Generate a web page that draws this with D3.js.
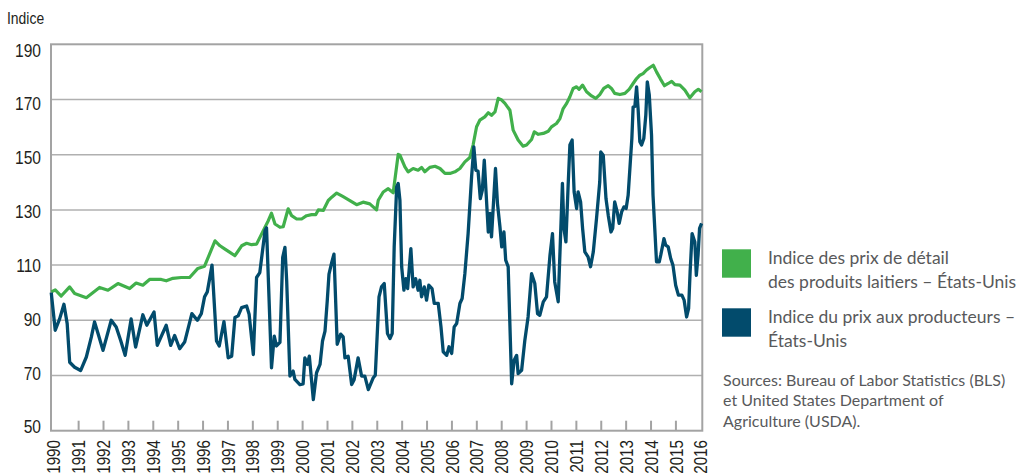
<!DOCTYPE html>
<html>
<head>
<meta charset="utf-8">
<script src="https://cdnjs.cloudflare.com/ajax/libs/d3/7.8.5/d3.min.js"></script>
<style>
  body { margin: 0; background: #fff; }
</style>
</head>
<body>
<div id="chart"></div>
<script>
// data (decimal year, index value)
var retailDates = [1989.90, 1990.06, 1990.30, 1990.64, 1990.84, 1991.31, 1991.84, 1992.18, 1992.58, 1993.05,
  1993.31, 1993.58, 1993.85, 1994.32, 1994.52, 1994.79, 1995.12, 1995.46, 1995.79, 1996.06,
  1996.33, 1996.48, 1996.68, 1996.88, 1997.08, 1997.28, 1997.55, 1997.75, 1997.95, 1998.15,
  1998.42, 1998.62, 1998.75, 1998.89, 1999.09, 1999.22, 1999.42, 1999.56, 1999.76, 1999.96,
  2000.16, 2000.36, 2000.53, 2000.63, 2000.83, 2001.03, 2001.17, 2001.37, 2001.63, 2001.90,
  2002.17, 2002.43, 2002.70, 2002.97, 2003.04, 2003.24, 2003.44, 2003.64, 2003.84, 2003.91,
  2004.11, 2004.24, 2004.44, 2004.64, 2004.78, 2004.91, 2005.11, 2005.32, 2005.52, 2005.72,
  2005.92, 2006.12, 2006.32, 2006.52, 2006.72, 2006.85, 2006.99, 2007.12, 2007.32, 2007.46,
  2007.59, 2007.73, 2007.86, 2008.00, 2008.13, 2008.33, 2008.46, 2008.66, 2008.86, 2009.00,
  2009.20, 2009.31, 2009.47, 2009.67, 2009.87, 2010.00, 2010.20, 2010.34, 2010.47, 2010.61,
  2010.74, 2010.87, 2011.01, 2011.11, 2011.25, 2011.41, 2011.61, 2011.78, 2011.94, 2012.10,
  2012.28, 2012.41, 2012.54, 2012.75, 2012.95, 2013.12, 2013.28, 2013.42, 2013.55, 2013.68,
  2013.81, 2013.94, 2014.09, 2014.22, 2014.38, 2014.54, 2014.69, 2014.83, 2014.96, 2015.16,
  2015.36, 2015.56, 2015.76, 2015.90, 2016.03];
var retailValues = [100.3, 101, 98.8, 102.1, 99.7, 98.2, 101.9, 100.9, 103.3, 101.5,
  103.5, 102.7, 104.8, 104.8, 104.3, 105.2, 105.5, 105.5, 108.8, 109.6,
  115.5, 118.8, 117, 115.8, 114.6, 113.4, 117, 117.9, 117.4, 117.6,
  122.5, 126.1, 128.8, 124.9, 123.7, 123.9, 130.4, 127.9, 126.7, 126.7,
  127.9, 128.3, 128.3, 130, 129.8, 133.4, 134.6, 136.1, 134.8, 133.4,
  131.9, 132.8, 132.2, 130, 133.5, 136.5, 137.7, 136.2, 150.1, 149.8,
  145.6, 143.8, 145, 144.4, 145.4, 143.8, 145.4, 145.8, 145, 143.2,
  143.2, 143.8, 145, 147.4, 149, 153.5, 160.1, 162.5, 163.7, 165.2,
  164.3, 165.5, 170.4, 169.8, 168.6, 166.1, 158.9, 155.3, 153.1, 153.5,
  155.5, 158.3, 157.4, 157.7, 158.5, 160.1, 161.3, 163.1, 166.7, 168.6,
  171, 174, 174.6, 173.7, 175.2, 172.8, 171.3, 170.4, 171.8, 174,
  175, 174, 172.2, 171.8, 172.2, 173.7, 175.8, 177.6, 178.8, 179.4,
  180.6, 181.5, 182.4, 180, 177.4, 175, 175.8, 176.6, 175.4, 175.2,
  173.4, 170.6, 172.8, 173.7, 172.8];

var producerDates = [1989.90, 1990.06, 1990.24, 1990.41, 1990.54, 1990.64, 1990.84, 1991.08, 1991.31, 1991.51,
  1991.64, 1991.78, 1991.98, 1992.31, 1992.51, 1992.69, 1992.87, 1993.11, 1993.29, 1993.58,
  1993.74, 1994.03, 1994.16, 1994.52, 1994.70, 1994.86, 1995.06, 1995.26, 1995.55, 1995.77,
  1995.93, 1996.06, 1996.17, 1996.36, 1996.54, 1996.65, 1996.84, 1997.01, 1997.15, 1997.28,
  1997.41, 1997.55, 1997.75, 1997.85, 1998.02, 1998.15, 1998.28, 1998.49, 1998.55, 1998.75,
  1998.86, 1998.95, 1999.09, 1999.20, 1999.29, 1999.36, 1999.49, 1999.62, 1999.69, 1999.89,
  2000.02, 2000.09, 2000.19, 2000.27, 2000.43, 2000.56, 2000.70, 2000.80, 2000.90, 2000.99,
  2001.06, 2001.17, 2001.26, 2001.39, 2001.53, 2001.63, 2001.70, 2001.83, 2001.97, 2002.07,
  2002.23, 2002.37, 2002.50, 2002.64, 2002.84, 2002.92, 2003.07, 2003.17, 2003.28, 2003.41,
  2003.51, 2003.60, 2003.68, 2003.78, 2003.84, 2003.91, 2003.98, 2004.07, 2004.15, 2004.22,
  2004.35, 2004.44, 2004.54, 2004.64, 2004.71, 2004.78, 2004.89, 2004.98, 2005.07, 2005.20,
  2005.29, 2005.45, 2005.56, 2005.65, 2005.79, 2005.88, 2005.99, 2006.09, 2006.19, 2006.32,
  2006.41, 2006.52, 2006.65, 2006.79, 2006.88, 2006.96, 2007.05, 2007.14, 2007.22, 2007.30,
  2007.46, 2007.53, 2007.59, 2007.75, 2007.83, 2007.93, 2008.00, 2008.09, 2008.16, 2008.26,
  2008.40, 2008.50, 2008.60, 2008.66, 2008.80, 2008.93, 2009.06, 2009.20, 2009.33, 2009.44,
  2009.53, 2009.67, 2009.80, 2009.94, 2010.04, 2010.13, 2010.27, 2010.44, 2010.50, 2010.58,
  2010.67, 2010.74, 2010.83, 2010.91, 2011.01, 2011.07, 2011.17, 2011.25, 2011.34, 2011.47,
  2011.57, 2011.68, 2011.81, 2011.94, 2011.98, 2012.08, 2012.19, 2012.28, 2012.39, 2012.46,
  2012.54, 2012.64, 2012.72, 2012.82, 2012.91, 2013.00, 2013.08, 2013.23, 2013.28, 2013.35,
  2013.42, 2013.48, 2013.55, 2013.62, 2013.71, 2013.79, 2013.85, 2013.93, 2014.02, 2014.08,
  2014.15, 2014.22, 2014.33, 2014.39, 2014.52, 2014.59, 2014.69, 2014.79, 2014.88, 2014.99,
  2015.10, 2015.24, 2015.33, 2015.43, 2015.51, 2015.57, 2015.65, 2015.76, 2015.82, 2015.89,
  2015.95, 2016.03];
var producerValues = [100, 86.4, 90.6, 95.8, 88.8, 74.8, 73, 71.8, 76.7, 83.9,
  89.4, 85.2, 79.1, 90, 87.6, 82.7, 77.3, 90.5, 80.3, 92,
  88.2, 93, 80.9, 88.2, 80.9, 84.5, 79.7, 82.1, 92.4, 90,
  92.4, 98.5, 100.3, 110, 82.5, 80.7, 89.5, 76.4, 77, 91,
  91.6, 94.6, 95.2, 92.2, 77.6, 105.5, 107.3, 122.5, 123.5, 72.8,
  84.3, 80.7, 82, 112.8, 116.4, 104.3, 69.8, 71.6, 68.6, 66.7,
  67, 76.4, 74, 77, 61.3, 71, 74, 82.5, 86.1, 97,
  106.7, 111, 114, 81.3, 85, 84, 76.4, 77, 66.7, 68.5,
  76.4, 69.8, 69.8, 64.9, 69.2, 70.1, 98.5, 102.1, 103.3, 85.2,
  83.4, 85.2, 116.6, 138.4, 139.6, 133.5, 109.4, 100.9, 105.1, 101.5,
  116, 102.1, 105.1, 100.9, 104.5, 98.5, 102.1, 97.3, 102.7, 101.5,
  96.1, 96.1, 87.6, 78.6, 77.3, 80.4, 78, 87.6, 88.8, 96.1,
  97.9, 106.9, 121.4, 142, 152.8, 144.4, 144, 134.1, 137.1, 148,
  122, 128.7, 120.2, 145, 132.3, 123.8, 116.6, 122, 111.8, 109.4,
  67, 75.5, 77.3, 70.7, 71.9, 82.8, 91.2, 106.9, 103.3, 92.4,
  91.8, 96.7, 98.5, 113.6, 121.4, 103.9, 96.7, 139.6, 123.3, 118.4,
  139, 153.5, 155.3, 136.5, 130.5, 136.5, 132.9, 123.3, 114.8, 113,
  109.4, 114.8, 126.9, 140.2, 151, 149.8, 134.1, 128.1, 122, 123.3,
  132.9, 129.3, 125.1, 129.3, 131.1, 130.5, 135.3, 155.9, 167.3, 167.5,
  174.6, 166.7, 154.7, 153.5, 155.9, 164.3, 176.4, 171.6, 157.1, 135.3,
  123.3, 111.2, 111.2, 113.6, 119.6, 117.2, 116.6, 112.4, 110, 102.7,
  99.1, 99.1, 97.3, 91.2, 94.3, 107.5, 121.4, 118.4, 106.3, 113.6,
  123.3, 125.1];

var yearTicks = d3.range(1990, 2017);
var valueTicks = [50, 70, 90, 110, 130, 150, 170, 190];

var legendLabels = [
  ["Indice des prix de détail", "des produits laitiers – États-Unis"],
  ["Indice du prix aux producteurs –", "États-Unis"]
];
var sourceLines = ["Sources: Bureau of Labor Statistics (BLS)", "et United States Department of", "Agriculture (USDA)."];

var svgWidth = 1028, svgHeight = 475;
var green = "#41b04b", blue = "#024b6c", grey = "#a3a3a3";
// no Arial Narrow here: squeeze Liberation Sans sideways instead
var narrow = "'Liberation Sans', Arial, sans-serif", squeeze = " scale(0.82,1)";
var legendFont = "Lato, 'Open Sans', sans-serif";

var svg = d3.select("#chart")
  .append("svg")
  .attr("width", svgWidth)
  .attr("height", svgHeight);

////////////////////////////////////////////////////////////////////
// scales
var x = d3.scaleLinear().domain([1989.89, 2016.06]).range([51, 702.3]);
var y = d3.scaleLinear().domain([50, 190]).range([430.7, 44.3]);
// tick labels sit a little off their gridlines in the original
var yLabel = d3.scaleLinear().domain([50, 190]).range([426.5, 49.7]);

// gridlines
svg.selectAll("line.grid")
  .data(valueTicks.filter(function(d){ return d > 50 && d < 190; }))
  .enter().append("line")
  .attr("class", "grid")
  .attr("x1", x.range()[0]).attr("x2", x.range()[1])
  .attr("y1", d => y(d)).attr("y2", d => y(d))
  .attr("stroke", "#b0b0b0")
  .attr("stroke-width", 1.5);

// x ticks
svg.selectAll("line.xtick")
  .data(yearTicks.slice(1, -1))
  .enter().append("line")
  .attr("class", "xtick")
  .attr("x1", d => x(d)).attr("x2", d => x(d))
  .attr("y1", y(50)).attr("y2", y(50) - 10)
  .attr("stroke", grey)
  .attr("stroke-width", 2);

// frame
svg.append("rect")
  .attr("x", x.range()[0])
  .attr("y", y(190))
  .attr("width", x.range()[1] - x.range()[0])
  .attr("height", y(50) - y(190))
  .attr("fill", "none")
  .attr("stroke", grey)
  .attr("stroke-width", 2);

////////////////////////////////////////////////////////////////////
// lines
var line = d3.line()
  .x(d => x(d[0]))
  .y(d => y(d[1]));

svg.append("path")
  .datum(d3.zip(retailDates, retailValues))
  .attr("d", line)
  .attr("fill", "none")
  .attr("stroke", green)
  .attr("stroke-width", 3.2)
  .attr("stroke-linejoin", "round");

svg.append("path")
  .datum(d3.zip(producerDates, producerValues))
  .attr("d", line)
  .attr("fill", "none")
  .attr("stroke", blue)
  .attr("stroke-width", 3.3)
  .attr("stroke-linejoin", "round");

////////////////////////////////////////////////////////////////////
// axis labels
svg.selectAll("text.ylab")
  .data(valueTicks)
  .enter().append("text")
  .attr("class", "ylab")
  .attr("transform", d => "translate(41," + yLabel(d) + ")" + squeeze)
  .attr("dy", "0.36em")
  .attr("text-anchor", "end")
  .style("font", "19px " + narrow)
  .attr("fill", "#231f20")
  .text(d => d);

svg.selectAll("text.xlab")
  .data(yearTicks)
  .enter().append("text")
  .attr("class", "xlab")
  .attr("transform", d => "translate(" + x(d) + ",440) rotate(-90)" + squeeze)
  .attr("dy", "0.36em")
  .attr("text-anchor", "end")
  .style("font", "18.5px " + narrow)
  .attr("fill", "#231f20")
  .text(d => d);

svg.append("text")
  .attr("transform", "translate(7,24)" + squeeze)
  .style("font", "17px " + narrow)
  .attr("fill", "#231f20")
  .text("Indice");

////////////////////////////////////////////////////////////////////
// legend
var legend = svg.selectAll("g.legend")
  .data(legendLabels)
  .enter().append("g")
  .attr("class", "legend")
  .attr("transform", (d, i) => "translate(722," + (249.3 + i * 59) + ")");

legend.append("rect")
  .attr("width", 29)
  .attr("height", 28.4)
  .attr("fill", (d, i) => i == 0 ? green : blue);

legend.selectAll("text")
  .data(d => d)
  .enter().append("text")
  .attr("x", 46)
  .attr("y", (d, i) => 15 + i * 23.7)
  .style("font", "17.5px " + legendFont)
  .attr("fill", "#58595b")
  .text(d => d);

svg.selectAll("text.source")
  .data(sourceLines)
  .enter().append("text")
  .attr("class", "source")
  .attr("x", 723)
  .attr("y", (d, i) => 385.7 + i * 20.5)
  .style("font", "16px " + legendFont)
  .attr("fill", "#58595b")
  .text(d => d);
</script>
</body>
</html>
